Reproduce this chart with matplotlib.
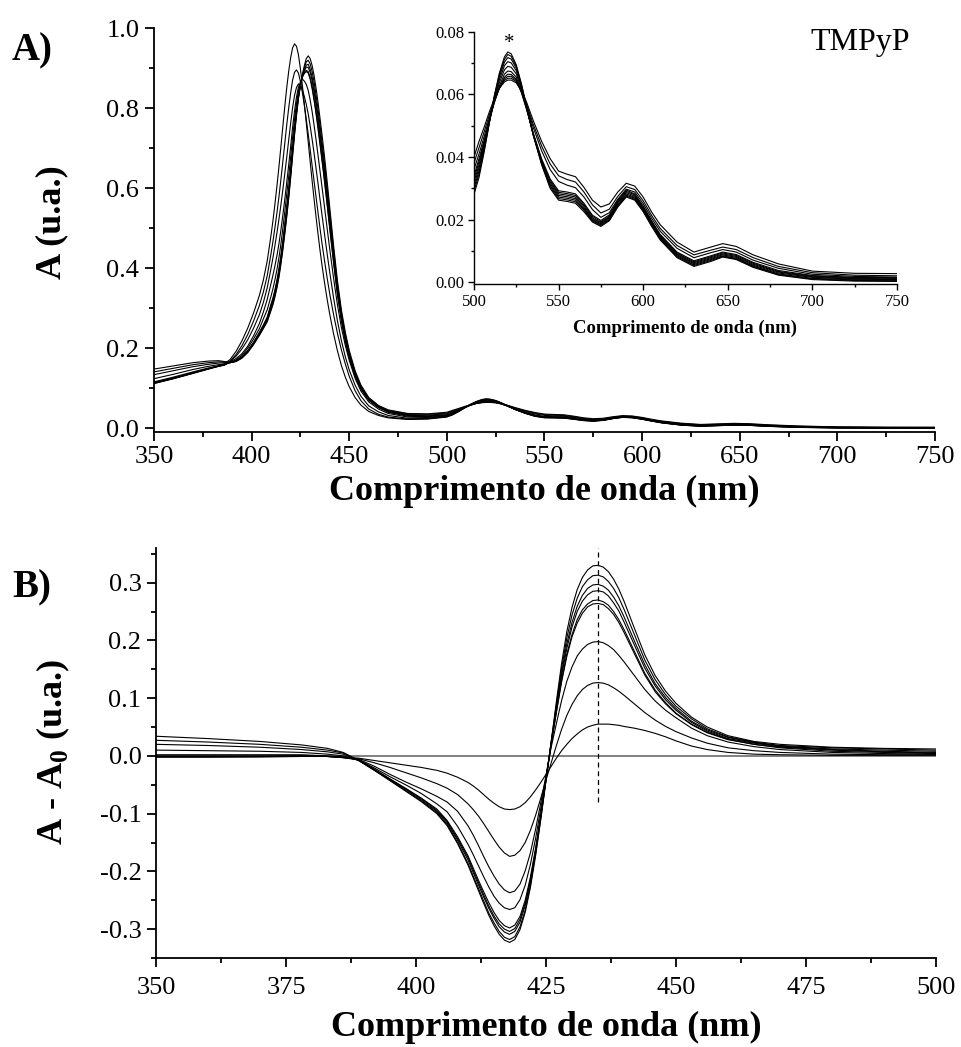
# TMPyP titration: absorption spectra (A) with Q-band inset, difference spectra (B)

import numpy as np
import matplotlib
matplotlib.use("Agg")
import matplotlib.pyplot as plt
from matplotlib.ticker import MultipleLocator, FormatStrFormatter

plt.rcParams["font.family"] = ["Liberation Serif", "DejaVu Serif"]
plt.rcParams["mathtext.fontset"] = "custom"
plt.rcParams["mathtext.rm"] = "Liberation Serif"
plt.rcParams["mathtext.bf"] = "Liberation Serif:bold"
plt.rcParams["axes.unicode_minus"] = False

# ── Soret region (350-500 nm) ─────────────────────────────────────
wl_soret = np.array([350, 360, 370, 378, 383, 386, 389, 392, 395, 398,
                     401, 404, 406, 408, 410, 411, 412, 413, 414, 415,
                     416, 417, 418, 419, 420, 421, 422, 423, 424, 425,
                     426, 427, 428, 429, 430, 431, 432, 433, 434, 435,
                     436, 437, 438, 439, 440, 442, 444, 446, 448, 450,
                     453, 456, 460, 465, 470, 480, 490, 500])

# free porphyrin (A0)
abs_free = np.array([.114, .126, .139, .149, .156, .161, .172, .192, .218, .250,
                     .288, .332, .370, .418, .484, .521, .562, .606, .653, .703,
                     .754, .804, .851, .892, .926, .951, .961, .955, .934, .899,
                     .858, .812, .764, .716, .667, .619, .573, .529, .487, .447,
                     .410, .376, .344, .314, .286, .236, .193, .157, .128, .104,
                     .077, .058, .042, .032, .026, .022, .023, .028])

# difference spectra A - A0 along the titration
diff_1 = np.array([-.002, -.002, -.002, -.001, -.001, -.002, -.004, -.008, -.012, -.016,
                   -.020, -.025, -.030, -.037, -.046, -.052, -.059, -.067, -.075, -.082,
                   -.088, -.092, -.093, -.092, -.088, -.081, -.071, -.059, -.046, -.032,
                   -.018, -.004, .009, .020, .030, .038, .045, .050, .053, .055,
                   .055, .055, .054, .053, .051, .048, .044, .039, .033, .026,
                   .017, .011, .006, .003, .002, .001, .001, .001])
diff_2 = np.array([.000, .000, .000, .000, -.001, -.003, -.005, -.012, -.020, -.029,
                   -.038, -.048, -.056, -.067, -.083, -.093, -.104, -.117, -.131, -.145,
                   -.158, -.168, -.174, -.172, -.164, -.150, -.129, -.103, -.073, -.042,
                   -.012, .018, .046, .070, .089, .104, .115, .122, .126, .127,
                   .126, .123, .118, .112, .105, .090, .075, .062, .051, .042,
                   .031, .022, .014, .009, .006, .003, .002, .002])
diff_3 = np.array([-.001, -.001, -.001, .000, -.001, -.003, -.006, -.018, -.032, -.045,
                   -.057, -.070, -.080, -.096, -.121, -.137, -.155, -.174, -.192, -.208,
                   -.222, -.232, -.237, -.234, -.222, -.199, -.168, -.127, -.081, -.034,
                   .015, .056, .096, .129, .154, .173, .185, .193, .197, .198,
                   .196, .191, .184, .174, .163, .139, .115, .095, .079, .066,
                   .048, .035, .024, .016, .011, .006, .004, .003])
diff_4 = np.array([-.002, -.002, -.001, .000, -.001, -.003, -.007, -.021, -.036, -.050,
                   -.065, -.083, -.097, -.122, -.153, -.171, -.190, -.209, -.227, -.243,
                   -.255, -.263, -.266, -.263, -.249, -.224, -.188, -.143, -.091, -.036,
                   .020, .075, .128, .172, .206, .230, .247, .258, .263, .264,
                   .262, .255, .245, .231, .214, .177, .140, .111, .090, .073,
                   .054, .040, .028, .020, .014, .008, .006, .004])
diff_5 = np.array([.002, .002, .002, .002, .000, -.002, -.007, -.023, -.040, -.056,
                   -.073, -.092, -.112, -.140, -.173, -.194, -.215, -.235, -.254, -.271,
                   -.285, -.294, -.298, -.293, -.278, -.250, -.210, -.160, -.101, -.040,
                   .020, .077, .131, .176, .210, .236, .253, .263, .269, .270,
                   .267, .261, .250, .236, .219, .181, .143, .114, .092, .074,
                   .055, .041, .029, .020, .015, .010, .007, .005])
diff_6 = np.array([.010, .009, .008, .006, .003, .000, -.008, -.024, -.040, -.057,
                   -.074, -.094, -.114, -.143, -.176, -.198, -.219, -.240, -.260, -.277,
                   -.291, -.300, -.304, -.299, -.283, -.255, -.215, -.163, -.104, -.041,
                   .022, .081, .139, .186, .223, .250, .268, .279, .285, .286,
                   .284, .277, .265, .251, .232, .192, .152, .121, .097, .079,
                   .058, .043, .030, .022, .016, .011, .008, .006])
diff_7 = np.array([.020, .018, .015, .011, .007, .003, -.008, -.024, -.041, -.058,
                   -.076, -.096, -.116, -.146, -.180, -.202, -.223, -.244, -.264, -.281,
                   -.296, -.305, -.309, -.304, -.288, -.259, -.218, -.166, -.105, -.041,
                   .023, .085, .144, .194, .231, .259, .278, .290, .296, .297,
                   .294, .287, .275, .260, .241, .199, .158, .125, .101, .082,
                   .060, .045, .032, .023, .017, .012, .010, .008])
diff_8 = np.array([.027, .024, .020, .015, .010, .005, -.008, -.025, -.042, -.060,
                   -.078, -.098, -.119, -.150, -.186, -.208, -.229, -.251, -.272, -.289,
                   -.304, -.314, -.318, -.313, -.296, -.267, -.224, -.170, -.108, -.042,
                   .024, .089, .152, .204, .244, .273, .293, .305, .312, .313,
                   .310, .302, .290, .274, .254, .210, .166, .132, .106, .086,
                   .064, .047, .033, .024, .018, .014, .012, .010])
diff_9 = np.array([.034, .030, .025, .019, .013, .006, -.008, -.025, -.043, -.061,
                   -.079, -.100, -.121, -.152, -.189, -.211, -.233, -.255, -.276, -.294,
                   -.309, -.319, -.323, -.318, -.301, -.271, -.228, -.173, -.110, -.043,
                   .025, .094, .160, .215, .257, .288, .309, .322, .329, .330,
                   .327, .319, .306, .289, .268, .221, .175, .139, .112, .091,
                   .067, .050, .035, .025, .020, .015, .013, .012])

# ── Q-band region (503-750 nm) ────────────────────────────────────
wl_q = np.array([503, 506, 509, 512, 515, 518, 520, 522, 525, 528,
                 531, 535, 540, 545, 550, 555, 560, 565, 570, 575,
                 580, 585, 590, 595, 600, 605, 610, 620, 630, 640,
                 647, 655, 665, 680, 700, 725, 750])

q_0 = np.array([.0335, .0415, .0505, .0595, .0668, .0720, .0736, .0730, .0695, .0635,
                .0565, .0470, .0375, .0300, .0262, .0258, .0252, .0225, .0192, .0178,
                .0196, .0240, .0272, .0262, .0225, .0178, .0135, .0078, .0050, .0066,
                .0080, .0072, .0047, .0022, .0008, .0003, .0002])
q_1 = np.array([.0345, .0422, .0508, .0594, .0663, .0712, .0728, .0722, .0690, .0632,
                .0564, .0471, .0378, .0305, .0267, .0263, .0257, .0230, .0195, .0181,
                .0199, .0243, .0275, .0265, .0228, .0181, .0138, .0081, .0053, .0069,
                .0082, .0074, .0049, .0024, .0010, .0005, .0004])
q_2 = np.array([.0355, .0428, .0510, .0590, .0656, .0703, .0718, .0713, .0684, .0628,
                .0563, .0472, .0381, .0310, .0272, .0268, .0262, .0234, .0198, .0184,
                .0202, .0246, .0278, .0268, .0231, .0184, .0141, .0084, .0056, .0072,
                .0084, .0076, .0051, .0026, .0012, .0007, .0006])
q_3 = np.array([.0365, .0434, .0511, .0585, .0647, .0692, .0705, .0701, .0676, .0623,
                .0561, .0473, .0384, .0315, .0277, .0273, .0267, .0238, .0201, .0187,
                .0205, .0250, .0282, .0271, .0234, .0187, .0144, .0087, .0059, .0075,
                .0087, .0079, .0054, .0029, .0015, .0009, .0008])
q_4 = np.array([.0375, .0440, .0512, .0580, .0637, .0679, .0690, .0687, .0666, .0617,
                .0558, .0474, .0387, .0320, .0282, .0278, .0272, .0243, .0205, .0190,
                .0208, .0254, .0286, .0275, .0237, .0190, .0147, .0090, .0062, .0078,
                .0090, .0082, .0057, .0032, .0017, .0011, .0010])
q_5 = np.array([.0385, .0446, .0513, .0575, .0627, .0665, .0675, .0673, .0655, .0610,
                .0555, .0475, .0390, .0325, .0287, .0283, .0277, .0248, .0210, .0193,
                .0211, .0257, .0290, .0279, .0240, .0193, .0150, .0093, .0065, .0081,
                .0093, .0085, .0060, .0034, .0019, .0013, .0012])
q_6 = np.array([.0395, .0453, .0515, .0573, .0620, .0655, .0665, .0664, .0648, .0606,
                .0554, .0477, .0394, .0330, .0292, .0288, .0282, .0252, .0214, .0197,
                .0215, .0261, .0294, .0282, .0243, .0196, .0153, .0096, .0068, .0084,
                .0096, .0088, .0063, .0037, .0021, .0015, .0014])
q_7 = np.array([.0410, .0465, .0523, .0577, .0620, .0650, .0658, .0658, .0645, .0610,
                .0565, .0495, .0420, .0360, .0322, .0310, .0302, .0272, .0232, .0207,
                .0222, .0265, .0297, .0288, .0251, .0204, .0163, .0108, .0078, .0094,
                .0104, .0096, .0070, .0044, .0025, .0018, .0016])
q_8 = np.array([.0430, .0480, .0533, .0582, .0620, .0645, .0652, .0652, .0641, .0610,
                .0570, .0505, .0435, .0378, .0340, .0328, .0320, .0288, .0247, .0221,
                .0233, .0274, .0305, .0296, .0260, .0213, .0172, .0117, .0087, .0102,
                .0112, .0104, .0078, .0050, .0030, .0022, .0020])
q_9 = np.array([.0450, .0495, .0543, .0587, .0620, .0640, .0646, .0646, .0637, .0612,
                .0577, .0517, .0450, .0395, .0355, .0345, .0337, .0303, .0262, .0240,
                .0250, .0288, .0316, .0307, .0272, .0224, .0184, .0128, .0096, .0112,
                .0123, .0114, .0087, .0058, .0035, .0028, .0027])

band_max_nm = 435          # position of the induced band maximum
band_marker_low = -0.08
b_top = 0.36

# ── Assemble full spectra ─────────────────────────────────────────
diffs = [diff_1, diff_2, diff_3, diff_4, diff_5, diff_6, diff_7, diff_8, diff_9]
q_bands = [q_0, q_1, q_2, q_3, q_4, q_5, q_6, q_7, q_8, q_9]
soret = [abs_free] + [abs_free + d for d in diffs]

wl_full = np.concatenate([wl_soret, wl_q])
spectra = [np.concatenate([s, q]) for s, q in zip(soret, q_bands)]


def style_axes(ax, lw, major, minor, size):
    for side in ["top", "right"]:
        ax.spines[side].set_visible(False)
    for side in ["left", "bottom"]:
        ax.spines[side].set_linewidth(lw)
    ax.tick_params(which="major", direction="out", length=major, width=lw,
                   labelsize=size, pad=4)
    ax.tick_params(which="minor", direction="out", length=minor, width=lw)


fig = plt.figure(figsize=(9.61, 10.47), dpi=100)

# ── Panel A ───────────────────────────────────────────────────────
ax_a = fig.add_axes([0.1602, 0.5877, 0.8127, 0.3853])
for spec in spectra:
    ax_a.plot(wl_full, spec, color="k", lw=0.8)
ax_a.set_xlim(350, 750)
ax_a.set_ylim(-0.0085, 1.0)
ax_a.xaxis.set_major_locator(MultipleLocator(50))
ax_a.xaxis.set_minor_locator(MultipleLocator(25))
ax_a.yaxis.set_major_locator(MultipleLocator(0.2))
ax_a.yaxis.set_minor_locator(MultipleLocator(0.1))
ax_a.yaxis.set_major_formatter(FormatStrFormatter("%.1f"))
style_axes(ax_a, 1.3, 6.5, 3.6, 19)

# inset: Q bands
ax_in = fig.add_axes([0.4932, 0.7288, 0.4402, 0.2407])
for spec in spectra:
    ax_in.plot(wl_full, spec, color="k", lw=0.8)
ax_in.set_xlim(500, 750)
ax_in.set_ylim(-0.0006, 0.08)
ax_in.xaxis.set_major_locator(MultipleLocator(50))
ax_in.xaxis.set_minor_locator(MultipleLocator(25))
ax_in.yaxis.set_major_locator(MultipleLocator(0.02))
ax_in.yaxis.set_minor_locator(MultipleLocator(0.01))
ax_in.yaxis.set_major_formatter(FormatStrFormatter("%.2f"))
style_axes(ax_in, 1.0, 4, 2.5, 12)
ax_in.tick_params(which="major", pad=3)
ax_in.set_xlabel("Comprimento de onda (nm)", fontsize=13.5, fontweight="bold",
                 labelpad=7)
ax_in.text(520.9, 0.0764, "*", fontsize=15, ha="center", va="center")

# ── Panel B ───────────────────────────────────────────────────────
ax_b = fig.add_axes([0.1623, 0.0850, 0.8117, 0.3916])
ax_b.plot(wl_soret, abs_free - abs_free, color="0.5", lw=1.4)
for d in diffs:
    ax_b.plot(wl_soret, d, color="k", lw=0.8)
ax_b.set_xlim(350, 500)
ax_b.set_ylim(-0.35, b_top)
ax_b.vlines(band_max_nm, band_marker_low, b_top, colors="k", lw=0.9,
            linestyles=(0, (4, 3)))
ax_b.xaxis.set_major_locator(MultipleLocator(25))
ax_b.xaxis.set_minor_locator(MultipleLocator(12.5))
ax_b.yaxis.set_major_locator(MultipleLocator(0.1))
ax_b.yaxis.set_minor_locator(MultipleLocator(0.05))
ax_b.yaxis.set_major_formatter(FormatStrFormatter("%.1f"))
style_axes(ax_b, 1.3, 6.5, 3.6, 19)
ax_b.tick_params(axis="x", which="major", pad=7)

# ── Labels ────────────────────────────────────────────────────────
fig.text(0.0541, 0.788, "A (u.a.)", rotation=90, ha="center", va="center",
         fontsize=26, fontweight="bold")
fig.text(0.0552, 0.2818, r"A - A$_{\mathbf{0}}$ (u.a.)", rotation=90,
         ha="center", va="center", fontsize=26, fontweight="bold")
fig.text(0.5666, 1 - 500 / 1047, "Comprimento de onda (nm)", ha="center",
         va="baseline", fontsize=26, fontweight="bold")
fig.text(0.5684, 1 - 1036 / 1047, "Comprimento de onda (nm)", ha="center",
         va="baseline", fontsize=26, fontweight="bold")
fig.text(12 / 961, 1 - 60 / 1047, "A)", fontsize=28, fontweight="bold",
         va="baseline")
fig.text(12 / 961, 1 - 597 / 1047, "B)", fontsize=28, fontweight="bold",
         va="baseline")
fig.text(910 / 961, 1 - 50 / 1047, "TMPyP", fontsize=23, ha="right",
         va="baseline")

fig.savefig("out.png", dpi=100)
